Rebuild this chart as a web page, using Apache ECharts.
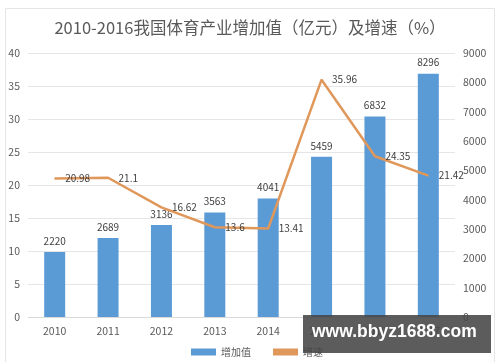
<!DOCTYPE html>
<html><head><meta charset="utf-8">
<script src="https://cdn.jsdelivr.net/npm/echarts@6/dist/echarts.min.js"></script>
<style>html,body{margin:0;padding:0;background:#fff}#c{width:500px;height:362px}</style>
</head><body><div id="c"></div>
<script>
var categories = ['2010','2011','2012','2013','2014','2015','2016','2017'];
var addedValue = [2220, 2689, 3136, 3563, 4041, 5459, 6832, 8296];
var growthRate = [20.98, 21.1, 16.62, 13.6, 13.41, 35.96, 24.35, 21.42];
var leftTicks = [0, 40, 5];
var rightTicks = [0, 9000, 1000];

var font = '"Microsoft YaHei","Noto Sans CJK SC","Noto Sans",sans-serif';
var chart = echarts.init(document.getElementById('c'));
chart.setOption({
  animation: false,
  textStyle: {fontFamily: font},
  title: {
    text: '2010-2016我国体育产业增加值（亿元）及增速（%）',
    left: 'center', top: 14,
    textStyle: {fontSize: 16.5, fontWeight: 'normal', color: '#595959', fontFamily: font}
  },
  legend: {
    bottom: 0, left: 186, itemGap: 22, itemWidth: 25, itemHeight: 7,
    textStyle: {fontSize: 10, color: '#595959'},
    data: [{name: '增加值', icon: 'rect'}, {name: '增速', icon: 'rect', itemStyle: {color: '#e0975a'}}]
  },
  grid: {left: 28, right: 45, top: 53, bottom: 45},
  xAxis: {
    type: 'category', data: categories,
    axisLine: {lineStyle: {color: '#d9d9d9'}},
    axisTick: {show: false},
    axisLabel: {color: '#595959', fontSize: 10.5, margin: 9}
  },
  yAxis: [{
    type: 'value', min: leftTicks[0], max: leftTicks[1], interval: leftTicks[2],
    axisLine: {show: false}, axisTick: {show: false},
    axisLabel: {color: '#595959', fontSize: 10.5, margin: 8},
    splitLine: {lineStyle: {color: '#e6e6e6'}}
  }, {
    type: 'value', min: rightTicks[0], max: rightTicks[1], interval: rightTicks[2],
    position: 'right',
    axisLine: {show: false}, axisTick: {show: false},
    axisLabel: {color: '#595959', fontSize: 10.5, margin: 8, formatter: function (v) { return String(v); }},
    splitLine: {show: false}
  }],
  series: [{
    name: '增加值', type: 'bar', yAxisIndex: 1, data: addedValue,
    barWidth: 21,
    itemStyle: {color: '#5b9bd5'},
    label: {show: true, position: 'top', color: '#404040', fontSize: 10, distance: 6}
  }, {
    name: '增速', type: 'line', yAxisIndex: 0, data: growthRate,
    symbol: 'circle', symbolSize: 1, showSymbol: true,
    lineStyle: {color: '#e0975a', width: 2.5},
    itemStyle: {color: '#e0975a'},
    labelLayout: {hideOverlap: false},
    label: {show: true, position: 'right', color: '#404040', fontSize: 10, distance: 10}
  }],
  graphic: [{
    type: 'rect', left: 3, top: 6, silent: true,
    shape: {width: 489, height: 360},
    style: {fill: 'none', stroke: '#e6e6e6', lineWidth: 1}
  }, {
    type: 'rect', left: 303, top: 315, z: 100,
    shape: {width: 188, height: 38},
    style: {fill: 'rgba(70,70,70,0.88)'}
  }, {
    type: 'text', left: 312, top: 323, z: 101,
    style: {text: 'www.bbyz1688.com', fill: '#ffffff', font: 'bold 17.5px "Liberation Sans", Arial, sans-serif'}
  }]
});
</script></body></html>
